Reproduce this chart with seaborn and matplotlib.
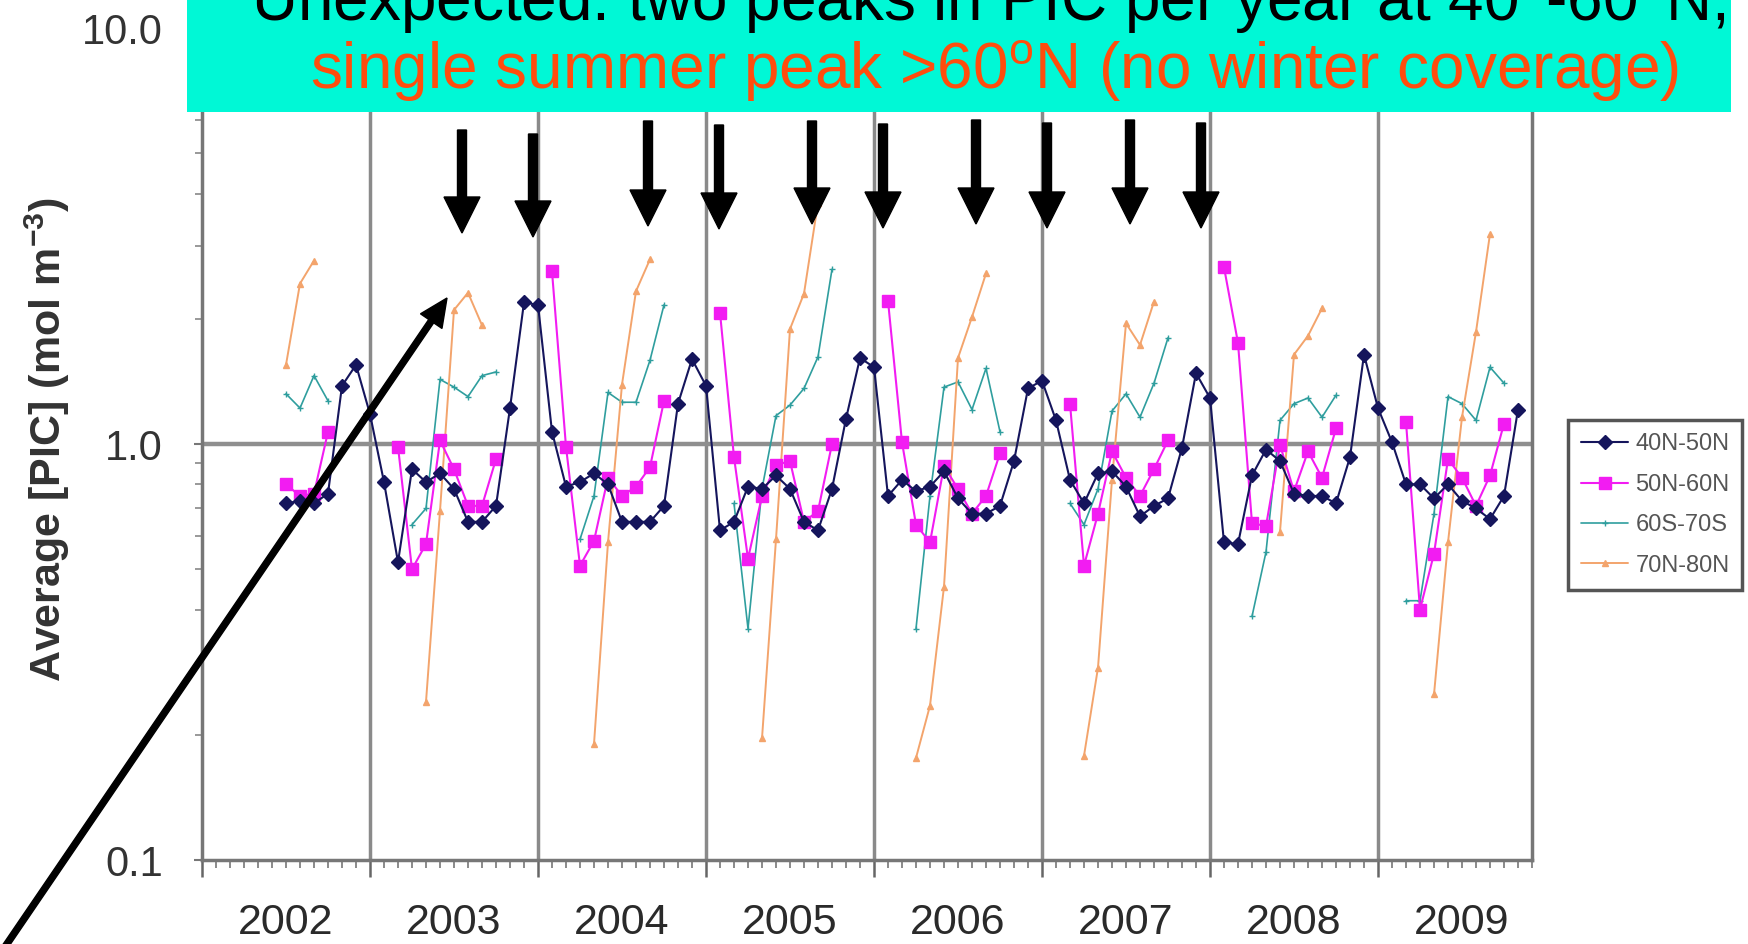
import numpy as np
import pandas as pd
import matplotlib
matplotlib.use("Agg")
import matplotlib.pyplot as plt
import seaborn as sns
from matplotlib.lines import Line2D
from matplotlib.patches import Rectangle, FancyArrow
from matplotlib.transforms import IdentityTransform
from matplotlib.ticker import FixedLocator, NullFormatter

nan = np.nan
years = list(range(2002, 2010))
year_labels = [str(y) for y in years]
series_names = ["40N-50N", "50N-60N", "60S-70S", "70N-80N"]

# Monthly mean PIC (mol m-3), Jan..Dec for each year 2002-2009
pic_40_50 = [
    nan, nan, nan, nan, nan, nan, 0.72, 0.73, 0.72, 0.76, 1.38, 1.55,
    1.18, 0.81, 0.52, 0.87, 0.81, 0.85, 0.78, 0.65, 0.65, 0.71, 1.22, 2.19,
    2.16, 1.07, 0.79, 0.81, 0.85, 0.80, 0.65, 0.65, 0.65, 0.71, 1.25, 1.60,
    1.38, 0.62, 0.65, 0.79, 0.78, 0.84, 0.78, 0.65, 0.62, 0.78, 1.15, 1.61,
    1.53, 0.75, 0.82, 0.77, 0.79, 0.86, 0.74, 0.68, 0.68, 0.71, 0.91, 1.36,
    1.42, 1.14, 0.82, 0.72, 0.85, 0.86, 0.79, 0.67, 0.71, 0.74, 0.98, 1.48,
    1.29, 0.58, 0.575, 0.84, 0.97, 0.91, 0.76, 0.75, 0.75, 0.72, 0.93, 1.64,
    1.22, 1.01, 0.80, 0.80, 0.74, 0.80, 0.73, 0.70, 0.66, 0.75, 1.21, nan,
]
pic_50_60 = [
    nan, nan, nan, nan, nan, nan, 0.80, 0.75, 0.76, 1.07, nan, nan,
    nan, nan, 0.985, 0.50, 0.575, 1.02, 0.87, 0.71, 0.71, 0.92, nan, nan,
    nan, 2.60, 0.985, 0.51, 0.585, 0.83, 0.75, 0.79, 0.88, 1.27, nan, nan,
    nan, 2.07, 0.93, 0.53, 0.75, 0.89, 0.91, 0.65, 0.69, 1.00, nan, nan,
    nan, 2.21, 1.01, 0.64, 0.58, 0.885, 0.78, 0.68, 0.75, 0.95, nan, nan,
    nan, nan, 1.25, 0.51, 0.68, 0.96, 0.83, 0.75, 0.87, 1.02, nan, nan,
    nan, 2.66, 1.75, 0.645, 0.635, 0.995, 0.77, 0.96, 0.83, 1.09, nan, nan,
    nan, nan, 1.13, 0.40, 0.545, 0.92, 0.83, 0.71, 0.84, 1.12, nan, nan,
]
pic_60s_70s = [
    nan, nan, nan, nan, nan, nan, 1.32, 1.22, 1.46, 1.27, nan, nan,
    nan, nan, nan, 0.64, 0.70, 1.43, 1.37, 1.30, 1.46, 1.49, nan, nan,
    nan, nan, nan, 0.59, 0.75, 1.33, 1.26, 1.26, 1.59, 2.16, nan, nan,
    nan, nan, 0.72, 0.36, 0.78, 1.17, 1.24, 1.36, 1.62, 2.63, nan, nan,
    nan, nan, nan, 0.36, 0.75, 1.37, 1.41, 1.21, 1.52, 1.07, nan, nan,
    nan, nan, 0.72, 0.64, 0.78, 1.20, 1.32, 1.16, 1.40, 1.80, nan, nan,
    nan, nan, nan, 0.385, 0.55, 1.14, 1.25, 1.29, 1.16, 1.31, nan, nan,
    nan, nan, 0.42, 0.42, 0.68, 1.30, 1.25, 1.14, 1.53, 1.40, nan, nan,
]
pic_70_80 = [
    nan, nan, nan, nan, nan, nan, 1.55, 2.43, 2.76, nan, nan, nan,
    nan, nan, nan, nan, 0.24, 0.69, 2.10, 2.31, 1.93, nan, nan, nan,
    nan, nan, nan, nan, 0.19, 0.58, 1.39, 2.33, 2.78, nan, nan, nan,
    nan, nan, nan, nan, 0.196, 0.59, 1.89, 2.30, 3.80, nan, nan, nan,
    nan, nan, nan, 0.176, 0.235, 0.454, 1.61, 2.02, 2.57, nan, nan, nan,
    nan, nan, nan, 0.178, 0.29, 0.82, 1.95, 1.73, 2.20, nan, nan, nan,
    nan, nan, nan, nan, nan, 0.615, 1.64, 1.82, 2.12, nan, nan, nan,
    nan, nan, nan, nan, 0.25, 0.58, 1.16, 1.86, 3.20, nan, nan, nan,
]

# decimal-year position of each month (January sits on the year line)
month_t = np.array([y + m / 12 for y in years for m in range(12)])

styles = {
    "40N-50N": dict(color="#15155c", marker="D", markersize=7.2, linewidth=1.5),
    "50N-60N": dict(color="#f21cf2", marker="s", markersize=8.2, linewidth=1.5),
    "60S-70S": dict(color="#2f9e9e", marker="+", markersize=5, linewidth=1.2),
    "70N-80N": dict(color="#f3a46c", marker="^", markersize=4.5, linewidth=1.4),
}
values = dict(zip(series_names, [pic_40_50, pic_50_60, pic_60s_70s, pic_70_80]))


def segments(vals):
    v = np.asarray(vals, dtype=float)
    seg = np.cumsum(np.isnan(v))
    df = pd.DataFrame({"t": month_t, "pic": v, "seg": seg})
    return df.dropna()


sns.set_theme(style="white")
plt.rcParams["font.family"] = ["Liberation Sans", "DejaVu Sans"]
plt.rcParams["mathtext.default"] = "regular"

W, H = 1748, 944
fig = plt.figure(figsize=(W / 100, H / 100), dpi=100)
fig.patch.set_facecolor("white")
ax = fig.add_axes([202 / W, (H - 860) / H, (1532 - 202) / W, (860 - 28) / H])
ax.set_facecolor("white")

# reference lines
for y in years[1:]:
    ax.axvline(y, color="#8a8a8a", lw=2.5, zorder=1)
ax.axhline(1.0, color="#8f8f8f", lw=3.2, zorder=1)

for name in ["60S-70S", "70N-80N", "50N-60N", "40N-50N"]:
    st = styles[name]
    sns.lineplot(data=segments(values[name]), x="t", y="pic", units="seg",
                 estimator=None, ax=ax, legend=False, color=st["color"],
                 marker=st["marker"], markersize=st["markersize"],
                 linewidth=st["linewidth"], markeredgecolor=st["color"],
                 markeredgewidth=1.0, zorder=3)

ax.set_yscale("log")
ax.set_ylim(0.1, 10)
ax.set_xlim(2002, 2009 + 11 / 12)
ax.set_yticks([0.1, 1, 10])
ax.set_yticklabels(["0.1", "1.0", "10.0"])
ax.yaxis.set_minor_formatter(NullFormatter())
ax.xaxis.set_major_locator(FixedLocator(years + [2010]))
ax.xaxis.set_minor_locator(FixedLocator(month_t))
ax.set_xticklabels([])
ax.set_xlabel("")
ax.tick_params(axis="y", which="major", direction="out", length=6, width=1.5,
               color="#777", labelsize=30, labelcolor="#333", pad=22, left=True)
ax.tick_params(axis="y", which="minor", direction="out", length=5, width=1.2,
               color="#888", left=True)
ax.tick_params(axis="x", which="major", direction="out", length=12, width=1.8,
               color="#666", bottom=True)
ax.tick_params(axis="x", which="minor", direction="out", length=6, width=1.2,
               color="#777", bottom=True)
for s in ["left", "bottom", "right"]:
    ax.spines[s].set_color("#777")
    ax.spines[s].set_linewidth(2.5)
ax.spines["top"].set_visible(False)

sec = ax.secondary_xaxis("bottom")
sec.set_xticks([y + 0.5 for y in years])
sec.set_xticklabels(year_labels)
sec.tick_params(length=0, labelsize=31, labelcolor="#2a2a2a", pad=31)
sec.spines["bottom"].set_visible(False)

ax.set_ylabel("Average [PIC] (mol m$^{-3}$)", fontsize=31, fontweight="bold",
              color="#333")
ax.yaxis.set_label_coords(-0.098, 0.505)

handles = [Line2D([], [], color=styles[n]["color"], marker=styles[n]["marker"],
                  markersize=styles[n]["markersize"], lw=styles[n]["linewidth"],
                  markeredgecolor=styles[n]["color"]) for n in series_names]
leg = ax.legend(handles, series_names, loc="center left",
                bbox_to_anchor=(1568 / W, 1 - 505 / H),
                bbox_transform=fig.transFigure, frameon=True, fancybox=False,
                edgecolor="#555", framealpha=1, fontsize=17, handlelength=2.0,
                handletextpad=0.3, borderpad=0.55, labelspacing=0.78,
                labelcolor="#555", borderaxespad=0)
leg.get_frame().set_linewidth(2.5)

# headline banner
fig.add_artist(Rectangle((187, H - 112), 1731 - 187, 130, transform=IdentityTransform(),
                         facecolor="#00f8d6", edgecolor="none", zorder=5))
fig.text(988 / W, (H - 21) / H, "Unexpected: two peaks in PIC per year at 40$^{o}$-60$^{o}$N,",
         ha="center", va="baseline", fontsize=46, color="black", zorder=6)
fig.text(994 / W, (H - 89) / H, "single summer peak >60$^{o}$N (no winter coverage)",
         ha="center", va="baseline", fontsize=46, color="#ff4d0d", zorder=6)

# downward arrows marking the twice-yearly peaks
arrow_x = [462, 533, 648, 719, 812, 883, 976, 1047, 1130, 1201]
arrow_top = [130, 134, 121, 125, 121, 124, 120, 123, 120, 123]
arrow_tip = [233, 237, 226, 229, 224, 228, 224, 228, 224, 228]
for x0, t0, t1 in zip(arrow_x, arrow_top, arrow_tip):
    fig.add_artist(FancyArrow(x0, H - t0, 0, -(t1 - t0), width=9, head_width=36,
                              head_length=36, length_includes_head=True,
                              color="black", transform=IdentityTransform(), zorder=6))

# long pointer to the 2003 high-latitude summer peak
fig.add_artist(FancyArrow(-4, -16, 451, 662, width=6, head_width=26, head_length=28,
                          length_includes_head=True, color="black",
                          transform=IdentityTransform(), zorder=6))

fig.savefig("out.png", dpi=100, facecolor="white")
